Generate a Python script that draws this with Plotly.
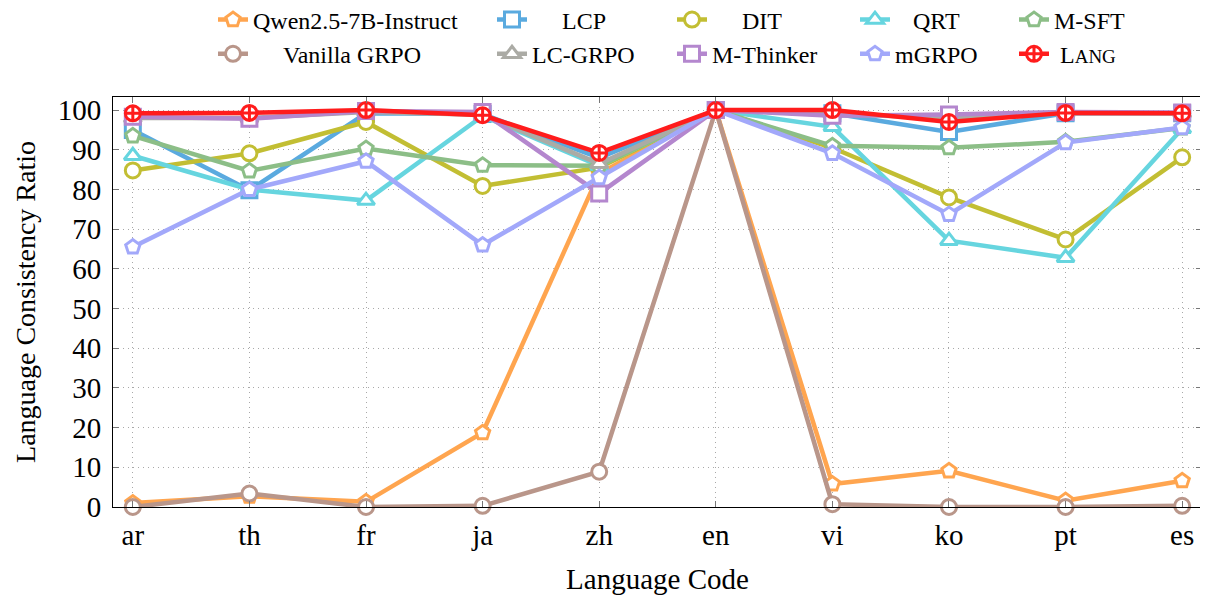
import plotly.graph_objects as go

languages = ["ar", "th", "fr", "ja", "zh", "en", "vi", "ko", "pt", "es"]

qwen = [1.0, 2.7, 1.3, 18.7, 84.0, 100.0, 5.8, 9.1, 1.6, 6.6]
lcp = [95.0, 79.8, 99.2, 99.0, 88.0, 100.0, 99.2, 94.5, 99.2, 99.2]
dit = [84.8, 89.1, 97.0, 80.9, 85.5, 100.0, 90.5, 78.0, 67.4, 88.1]
qrt = [88.5, 80.0, 77.2, 98.5, 86.0, 100.0, 95.8, 67.1, 62.8, 95.3]
msft = [93.5, 84.7, 90.3, 86.1, 86.0, 100.0, 91.0, 90.5, 92.0, 95.5]
vanilla = [0.0, 3.4, 0.0, 0.3, 8.9, 100.0, 0.7, 0.0, 0.0, 0.3]
lcgrpo = [98.0, 98.0, 99.5, 98.8, 86.5, 100.0, 99.0, 98.0, 99.2, 99.2]
mthinker = [98.3, 97.8, 99.8, 99.5, 79.0, 100.0, 98.6, 98.9, 99.5, 99.4]
mgrpo = [65.5, 80.0, 87.1, 66.0, 83.0, 100.0, 89.1, 73.7, 91.8, 95.6]
lang = [99.2, 99.3, 100.0, 98.7, 89.2, 100.0, 100.0, 97.0, 99.3, 99.2]

NB = "\u00a0"
series = [
    ("Qwen2.5-7B-Instruct", qwen, "#FFA54F", "pentagon", "legend"),
    (NB * 5 + "LCP", lcp, "#5AAADF", "square", "legend2"),
    (NB * 5 + "DIT", dit, "#C2BE33", "circle", "legend3"),
    (NB * 3 + "QRT", qrt, "#66D5DF", "triangle-up", "legend4"),
    ("M-SFT", msft, "#8CBE87", "pentagon", "legend5"),
    (NB * 5 + "Vanilla GRPO", vanilla, "#B9968A", "circle", "legend"),
    ("LC-GRPO", lcgrpo, "#ABABA5", "triangle-up", "legend2"),
    ("M-Thinker", mthinker, "#B487CE", "square", "legend3"),
    ("mGRPO", mgrpo, "#A2A8FA", "pentagon", "legend4"),
    (NB + "L<span style='font-size:19px'>ANG</span>", lang, "#FF1C1C", "circle-cross", "legend5"),
]

fig = go.Figure()
for name, vals, color, sym, lg in series:
    fig.add_trace(go.Scatter(
        x=languages, y=vals, name=name, mode="lines+markers",
        line=dict(color=color, width=4.5),
        marker=dict(symbol=sym, size=15, color="white",
                    line=dict(color=color, width=3)),
        cliponaxis=False, legend=lg,
    ))

font_family = "Liberation Serif"

legend_common = dict(orientation="v", yanchor="middle", xanchor="left",
                     font=dict(family=font_family, size=24, color="black"),
                     bgcolor="rgba(0,0,0,0)", tracegroupgap=0, itemwidth=30,
                     traceorder="normal")
text_starts = [254, 533, 713, 896, 1055]
legend_names = ["legend", "legend2", "legend3", "legend4", "legend5"]
layout_legends = {}
for ln, px in zip(legend_names, text_starts):
    layout_legends[ln] = dict(legend_common, x=(px - 41 - 113) / 1089, y=1 + (97 - 37) / 410)

# page has an 8px body margin; figure is sized to fit the 1208x600 window
fig.update_layout(
    width=1200, height=592,
    margin=dict(l=105, r=6, t=89, b=93, autoexpand=False),
    plot_bgcolor="white", paper_bgcolor="white",
    font=dict(family=font_family, size=28, color="black"),
    showlegend=True,
    **layout_legends,
)

grid_dash = "1px,4px"
fig.update_xaxes(
    type="category", range=[-0.17, 9.17], automargin=False,
    showgrid=True, gridcolor="#A8A8A8", griddash=grid_dash, gridwidth=1,
    showline=True, linecolor="black", linewidth=1, mirror="ticks",
    ticks="inside", ticklen=6, tickcolor="#777777", ticklabelstandoff=2,
    tickfont=dict(family=font_family, size=29),
    title=dict(text="Language Code", font=dict(family=font_family, size=29), standoff=18),
    zeroline=False,
)
fig.update_yaxes(
    range=[0, 103.3], tickvals=list(range(0, 101, 10)), automargin=False,
    showgrid=True, gridcolor="#A8A8A8", griddash=grid_dash, gridwidth=1,
    showline=True, linecolor="black", linewidth=1, mirror="ticks",
    ticks="inside", ticklen=6, tickcolor="#777777", ticklabelstandoff=5,
    tickfont=dict(family=font_family, size=29),
    title=dict(text="Language Consistency Ratio", font=dict(family=font_family, size=28), standoff=13),
    zeroline=False,
)

fig.write_html("out.html")
